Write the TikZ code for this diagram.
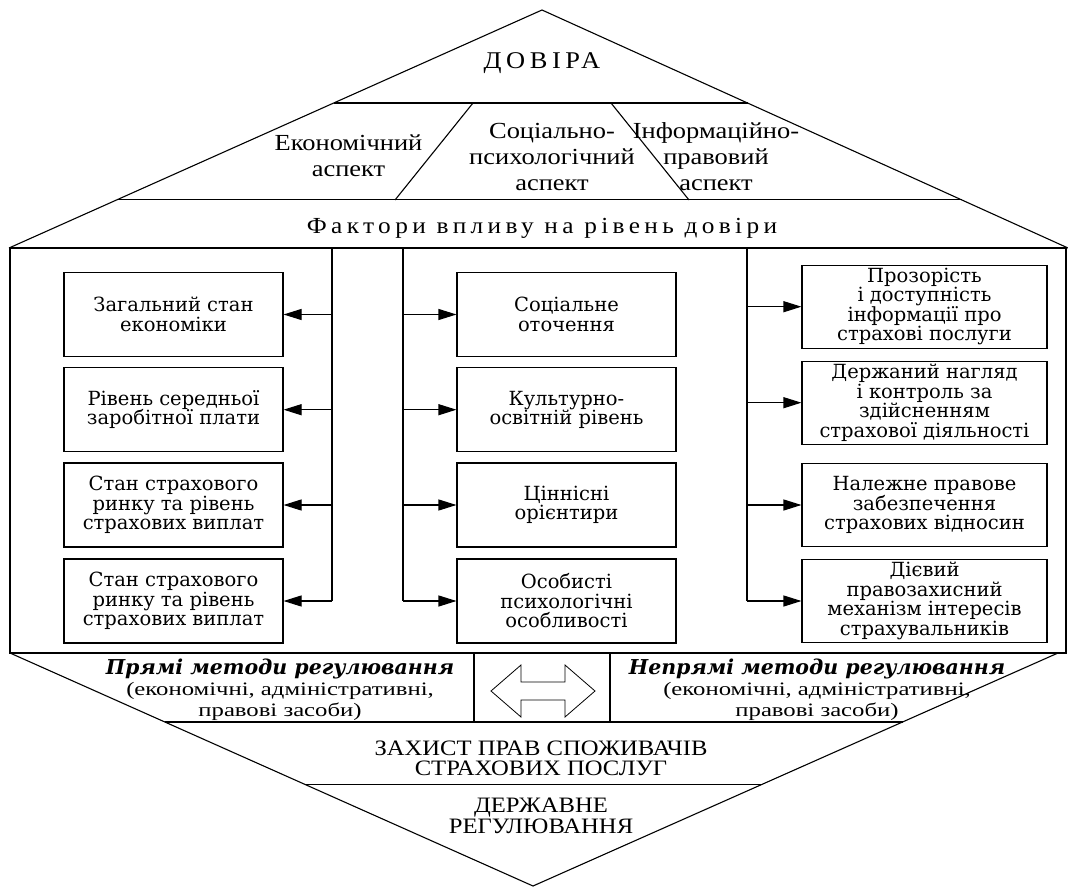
\documentclass[tikz,border=0pt]{standalone}
\usepackage{fontspec}
\setmainfont{Liberation Serif}
\newfontfamily\bk{DejaVu Serif}
\newfontfamily\spc[LetterSpace=19,FakeStretch=1.1]{Liberation Serif}
\newfontfamily\aspf[FakeStretch=1.15]{Liberation Serif}
\newfontfamily\widef[FakeStretch=1.3]{Liberation Serif}
\newfontfamily\capf[FakeStretch=1.12]{Liberation Serif}
\newcommand\mhd{\bk\bfseries\itshape\fontsize{20.5}{21}\selectfont}
\usetikzlibrary{calc,arrows.meta}
\begin{document}
\begin{tikzpicture}[x=1pt,y=-1pt,line width=1.1pt,
  box/.style={draw,line width=1.1pt,minimum width=219pt,minimum height=84pt,inner sep=0pt,align=center,font=\bk\fontsize{19.5}{19.5}\selectfont},
  rbox/.style={box,minimum width=245pt,minimum height=83pt},
  arr/.style={-{Triangle[length=18pt,width=11pt]}},
  lbl/.style={align=center,inner sep=0pt},
  asp/.style={lbl,font=\aspf\fontsize{23}{26}\selectfont},
  meth/.style={lbl,font=\widef\fontsize{19}{21}\selectfont},
  capsty/.style={lbl,font=\capf\fontsize{22}{20.5}\selectfont}]
\useasboundingbox (0,0) rectangle (1068,888);
% top triangle
\coordinate (apex) at (542,10);
\coordinate (bl) at (9,248);
\coordinate (br) at (1068,248);
\draw (bl) -- (apex) -- (br);
\draw ($(apex)!0.3908!(bl)$) -- ($(apex)!0.3908!(br)$);
\draw ($(apex)!0.798!(bl)$) -- ($(apex)!0.798!(br)$);
\draw (473,103) -- (395,200);
\draw (611,103) -- (689,200);
% main rectangle
\draw (10,248) rectangle (1066,653);
% bottom triangle
\coordinate (bapex) at (533,886);
\coordinate (tl) at (10,653);
\coordinate (tr) at (1058,653);
\draw (tl) -- (bapex) -- (tr);
\draw ($(tl)!0.296!(bapex)$) -- ($(tr)!0.296!(bapex)$);
\draw ($(tl)!0.565!(bapex)$) -- ($(tr)!0.565!(bapex)$);
\draw (474,653) -- (474,722);
\draw (610,653) -- (610,722);
% double arrow
\coordinate (da) at (543,691);
\draw[line width=0.8pt] ($(da)+(-52,0)$) -- ($(da)+(-22,-26)$) -- ($(da)+(-22,-9)$) -- ($(da)+(22,-9)$) -- ($(da)+(22,-26)$) -- ($(da)+(52,0)$) -- ($(da)+(22,26)$) -- ($(da)+(22,9)$) -- ($(da)+(-22,9)$) -- ($(da)+(-22,26)$) -- cycle;
% texts top
\node[lbl,font=\spc\fontsize{24}{26}\selectfont] (dov) at (542,63) {ДОВІРА};
\node[asp] (ek) at (348.5,156) {Економічний\\аспект};
\node[asp] (soc) at (552,157) {Соціально-\\психологічний\\аспект};
\node[asp] (inf) at (716,157) {Інформаційно-\\правовий\\аспект};
\node[lbl,font=\spc\fontsize{23}{26}\selectfont] (fak) at (542,228) {Фактори впливу на рівень довіри};
% boxes
\node[box] (L1) at (173.5,314.5) {Загальний стан\\економіки};
\node[box] (L2) at (173.5,409.7) {Рівень середньої\\заробітної плати};
\node[box] (L3) at (173.5,505) {Стан страхового\\ринку та рівень\\страхових виплат};
\node[box] (L4) at (173.5,601) {Стан страхового\\ринку та рівень\\страхових виплат};
\node[box] (M1) at (566.5,314.5) {Соціальне\\оточення};
\node[box] (M2) at (566.5,409.7) {Культурно-\\освітній рівень};
\node[box] (M3) at (566.5,505) {Ціннісні\\орієнтири};
\node[box] (M4) at (566.5,601) {Особисті\\психологічні\\особливості};
\node[rbox] (R1) at (924.5,306.7) {Прозорість\\і доступність\\інформації про\\страхові послуги};
\node[rbox] (R2) at (924.5,402.7) {Держаний нагляд\\і контроль за\\здійсненням\\страхової діяльності};
\node[rbox] (R3) at (924.5,505) {Належне правове\\забезпечення\\страхових відносин};
\node[rbox] (R4) at (924.5,601) {Дієвий\\правозахисний\\механізм інтересів\\страхувальників};
% trunks
\coordinate (tL) at (332,248);
\coordinate (tM) at (403,248);
\coordinate (tR) at (747,248);
\draw (tL) -- (tL |- L4.east);
\draw (tM) -- (tM |- M4.west);
\draw (tR) -- (tR |- R4.west);
\foreach \i in {1,2,3,4}{
  \draw[arr] (tL |- L\i.east) -- (L\i.east);
  \draw[arr] (tM |- M\i.west) -- (M\i.west);
  \draw[arr] (tR |- R\i.west) -- (R\i.west);
}
% bottom texts
\node[meth] (pr) at (280,690) {{\mhd Прямі методи регулювання}\\(економічні, адміністративні,\\правові засоби)};
\node[meth] (npr) at (817,690) {{\mhd Непрямі методи регулювання}\\(економічні, адміністративні,\\правові засоби)};
\node[capsty] (zah) at (541,758.5) {ЗАХИСТ ПРАВ СПОЖИВАЧІВ\\СТРАХОВИХ ПОСЛУГ};
\node[capsty] (der) at (541,816) {ДЕРЖАВНЕ\\РЕГУЛЮВАННЯ};
\end{tikzpicture}
\end{document}
